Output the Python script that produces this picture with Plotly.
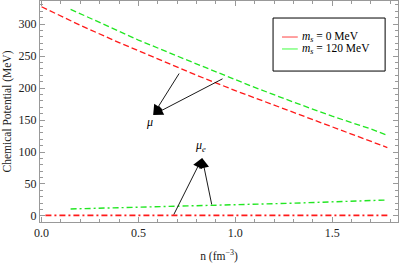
import plotly.graph_objects as go

# Chemical potential mu (quarks), MeV
n_mu0 = [0.0, 0.2, 0.4, 0.6, 0.8, 1.0, 1.2, 1.4, 1.6, 1.785]
mu_ms0 = [327, 298, 271, 245, 220, 196, 173, 150, 128, 107]
n_mu120 = [0.15, 0.3, 0.5, 0.7, 0.9, 1.1, 1.3, 1.5, 1.7, 1.785]
mu_ms120 = [323, 302, 275, 250, 225, 201, 178, 156, 136, 126]

# Electron chemical potential mu_e, MeV
n_mue0 = [0.02, 0.5, 1.0, 1.5, 1.785]
mue_ms0 = [1, 1, 1, 1, 1]
n_mue120 = [0.15, 0.5, 0.9, 1.3, 1.785]
mue_ms120 = [11, 13.5, 16, 20, 25]

legend_labels = ["<i>m</i><sub><i>s</i></sub> = 0 MeV", "<i>m</i><sub><i>s</i></sub> = 120 MeV"]

RED = "#ff1a1a"
GREEN = "#22e622"
FONT = "Liberation Serif, Times New Roman, DejaVu Serif, serif"

fig = go.Figure()
fig.add_trace(go.Scatter(x=n_mu0, y=mu_ms0, mode="lines", line=dict(color=RED, width=1.3, dash="6px,3px"), showlegend=False))
fig.add_trace(go.Scatter(x=n_mu120, y=mu_ms120, mode="lines", line=dict(color=GREEN, width=1.3, dash="6px,3px"), showlegend=False))
fig.add_trace(go.Scatter(x=n_mue0, y=mue_ms0, mode="lines", line=dict(color=RED, width=1.6, dash="6px,3px,2px,3px"), showlegend=False))
fig.add_trace(go.Scatter(x=n_mue120, y=mue_ms120, mode="lines", line=dict(color=GREEN, width=1.4, dash="6px,3px,2px,3px"), showlegend=False))

axis_common = dict(
    showline=True, linecolor="#999999", linewidth=1, mirror="allticks",
    ticks="inside", ticklen=5, tickcolor="#999999", tickwidth=1,
    showgrid=False, zeroline=False, automargin=False,
    tickfont=dict(family=FONT, size=12, color="#222222"),
)

fig.update_xaxes(range=[-0.008, 1.84], tickvals=[0.0, 0.5, 1.0, 1.5], ticktext=["0.0", "0.5", "1.0", "1.5"],
                 minor=dict(ticks="inside", ticklen=3, tickcolor="#999999", dtick=0.1),
                 title=dict(text="n (fm<sup>−3</sup>)", font=dict(family=FONT, size=11.5, color="#222222"), standoff=14),
                 **axis_common)
fig.update_yaxes(range=[-9.4, 336], tickvals=[0, 50, 100, 150, 200, 250, 300],
                 minor=dict(ticks="inside", ticklen=3, tickcolor="#999999", dtick=10),
                 title=dict(text="Chemical Potential (MeV)", font=dict(family=FONT, size=11.5, color="#222222"), standoff=4),
                 **axis_common)

# arrows
arrows = [
    (0.576, 158, 0.715, 225),
    (0.576, 158, 0.942, 215.6),
    (0.829, 90.6, 0.679, 0),
    (0.829, 90.6, 0.880, 15.6),
]
for tx, ty, sx, sy in arrows:
    fig.add_annotation(x=tx, y=ty, ax=sx, ay=sy, axref="x", ayref="y", xref="x", yref="y",
                       showarrow=True, arrowhead=2, arrowsize=2.2, arrowwidth=0.9, arrowcolor="#000000", text="")
fig.add_annotation(x=0.555, y=147, text="<i>μ</i>", showarrow=False, font=dict(family=FONT, size=12, color="#000"))
fig.add_annotation(x=0.818, y=110, text="<i>μ<sub>e</sub></i>", showarrow=False, font=dict(family=FONT, size=12, color="#000"))

# legend box
fig.add_shape(type="rect", xref="paper", yref="paper", x0=0.651, x1=0.964, y0=0.683, y1=0.923,
              line=dict(color="#000000", width=1), fillcolor="white")
for ypos, col, lab in [(0.837, "#ff8080", legend_labels[0]), (0.783, "#80ff80", legend_labels[1])]:
    fig.add_shape(type="line", xref="paper", yref="paper", x0=0.676, x1=0.72, y0=ypos, y1=ypos,
                  line=dict(color=col, width=1.5))
    fig.add_annotation(xref="paper", yref="paper", x=0.726, y=ypos, xanchor="left", yanchor="middle",
                       text=lab, showarrow=False, font=dict(family=FONT, size=11.5, color="#000"))

fig.update_layout(width=400, height=263, margin=dict(l=40, r=2, t=1, b=41),
                  font=dict(family=FONT),
                  plot_bgcolor="white", paper_bgcolor="white", showlegend=False)
fig.write_html("out.html", config={"displayModeBar": False},
               post_script="document.body.style.margin='0';document.body.style.padding='0';")
